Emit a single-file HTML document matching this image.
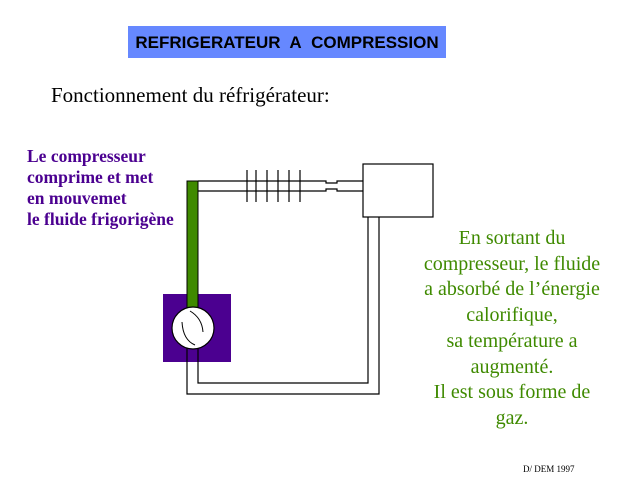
<!DOCTYPE html>
<html><head><meta charset="utf-8"><style>
body{margin:0;width:643px;height:483px;background:#fff;position:relative;overflow:hidden;font-family:"Liberation Serif",serif}
.t{position:absolute;white-space:nowrap}
</style></head><body>
<div class="t" style="left:128px;top:26px;width:318px;height:32px;background:#6688ff"></div>
<div class="t" style="left:128px;top:26px;width:318px;height:32px;line-height:33px;text-align:center;font-family:'Liberation Sans',sans-serif;font-weight:bold;font-size:17px;color:#000">REFRIGERATEUR&nbsp; A&nbsp; COMPRESSION</div>
<div class="t" style="left:51px;top:83px;font-size:21px;color:#000">Fonctionnement du réfrigérateur:</div>
<div class="t" style="left:27px;top:146px;font-size:17.5px;font-weight:bold;color:#4b0090;line-height:21px">Le compresseur<br>comprime et met<br>en mouvemet<br>le fluide frigorigène</div>
<div class="t" style="left:412px;top:226px;width:200px;text-align:center;font-size:20px;color:#3f8a00;line-height:25.7px">En sortant du<br>compresseur, le fluide<br>a absorbé de l’énergie<br>calorifique,<br>sa température a<br>augmenté.<br>Il est sous forme de<br>gaz.</div>
<div class="t" style="left:523px;top:464px;font-size:9px;color:#000">D/ DEM 1997</div>
<svg width="643" height="483" style="position:absolute;left:0;top:0">
<rect x="163" y="294" width="68" height="68" fill="#4b0090"/>
<rect x="187" y="181" width="11" height="127" fill="#3f8a00" stroke="#000" stroke-width="1"/>
<g stroke="#000" stroke-width="1.2" fill="none">
<path d="M198 181 H326 V183 H337 V181 H363"/>
<path d="M198 191 H326 V189 H337 V191 H363"/>
<path d="M247 170V202M256 170V202M267 170V202M278 170V202M289 170V202M300 170V202"/>
<rect x="363" y="164" width="70" height="53" fill="#fff"/>
<path d="M368 217 V383 H198 V346"/>
<path d="M379 217 V394 H187 V346"/>
</g>
<rect x="188" y="346" width="10" height="2" fill="#fff"/>
<circle cx="193" cy="328" r="21" fill="#fff" stroke="#000" stroke-width="1.2"/>
<path d="M182 322 Q183 340 195 345" stroke="#000" fill="none"/>
<path d="M190 311 Q202 318 203 332" stroke="#000" fill="none"/>
</svg>
</body></html>
